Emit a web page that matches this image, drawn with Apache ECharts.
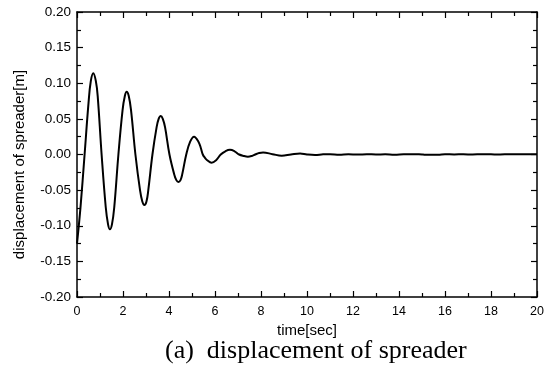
<!DOCTYPE html>
<html>
<head>
<meta charset="utf-8">
<script src="https://cdn.jsdelivr.net/npm/echarts@6/dist/echarts.min.js"></script>
<style>
html,body{margin:0;padding:0;background:#fff;}
#chart{width:549px;height:368px;}
</style>
</head>
<body>
<div id="chart"></div>
<script>
// time [sec]
var times = [
  0, 0.15, 0.33, 0.5, 0.6, 0.71, 0.82, 0.9, 1.07, 1.25,
  1.35, 1.43, 1.52, 1.62, 1.8, 1.98, 2.08, 2.16, 2.25, 2.35,
  2.54, 2.74, 2.84, 2.93, 3.02, 3.1, 3.28, 3.46, 3.55, 3.64,
  3.73, 3.83, 4.02, 4.22, 4.32, 4.41, 4.5, 4.58, 4.75, 4.92,
  5.09, 5.28, 5.38, 5.47, 5.56, 5.66, 5.85, 6.05, 6.25, 6.45, 6.65, 6.85,
  7.05, 7.24, 7.43, 7.6, 7.75, 7.92, 8.09, 8.5, 8.9, 9.3,
  9.7, 10.0, 10.35, 10.7, 11.0, 11.4, 11.8, 12.2, 12.6, 13.0,
  13.4, 13.8, 14.2, 14.6, 15.0, 15.1, 15.7, 16.0, 16.4, 16.8,
  17.2, 17.6, 18.0, 18.4, 18.8, 19.2, 19.6, 20.0
];
// displacement of spreader [m]
var displacement = [
  -0.125, -0.075, 0.0, 0.072, 0.103, 0.114, 0.103, 0.082, 0.0, -0.074,
  -0.098, -0.105, -0.098, -0.074, 0.0, 0.062, 0.082, 0.088, 0.082, 0.062,
  0.0, -0.05, -0.066, -0.071, -0.066, -0.05, 0.0, 0.038, 0.05, 0.054,
  0.05, 0.038, 0.0, -0.027, -0.036, -0.0386, -0.036, -0.027, 0.0, 0.018,
  0.025, 0.018, 0.0095, 0.0, -0.0045, -0.008, -0.0115, -0.008, 0.0, 0.0045, 0.0065, 0.0045,
  0.0, -0.002, -0.003, -0.002, 0.0, 0.002, 0.0028, 0.0005, -0.0017, 0.0,
  0.0015, 0.0, -0.0008, 0.0003, 0.0005, -0.0002, 0.0003, -0.0001, 0.0004, 0.0,
  0.0003, -0.0002, 0.0003, 0.0005, 0.0, -0.0002, -0.0002, 0.0004, 0.0001, 0.0003,
  0.0, 0.0004, 0.0002, 0.0, 0.0004, 0.0002, 0.0005, 0.0004
];
var xTicks = [0, 2, 4, 6, 8, 10, 12, 14, 16, 18, 20];
var yTicks = [-0.20, -0.15, -0.10, -0.05, 0.00, 0.05, 0.10, 0.15, 0.20];
var xTitle = 'time[sec]';
var yTitle = 'displacement of spreader[m]';
var caption = '(a)  displacement of spreader';

var pts = times.map(function (t, i) { return [t, displacement[i]]; });

var chart = echarts.init(document.getElementById('chart'), null, {renderer: 'canvas'});
var lineStyleAxis = {show: true, onZero: false, lineStyle: {color: '#000', width: 1.5}};
var tickStyle = {show: true, inside: true, length: 6, lineStyle: {color: '#000', width: 1.2}};
var minorStyle = {show: true, splitNumber: 2, length: 4, lineStyle: {color: '#000', width: 1.2}};
var font = 'Liberation Sans, Arial, sans-serif';
chart.setOption({
  animation: false,
  backgroundColor: '#fff',
  grid: {left: 77, right: 12, top: 12, bottom: 71, containLabel: false},
  xAxis: [{
    type: 'value', position: 'bottom',
    min: xTicks[0], max: xTicks[xTicks.length - 1], interval: 2,
    axisLine: lineStyleAxis, axisTick: tickStyle, minorTick: minorStyle,
    splitLine: {show: false},
    axisLabel: {color: '#000', fontFamily: font, fontSize: 12.5, margin: 8},
    name: xTitle, nameLocation: 'middle', nameGap: 24,
    nameTextStyle: {color: '#000', fontFamily: font, fontSize: 15}
  }, {
    type: 'value', position: 'top',
    min: xTicks[0], max: xTicks[xTicks.length - 1], interval: 2,
    axisLine: lineStyleAxis, axisTick: tickStyle, minorTick: minorStyle,
    splitLine: {show: false},
    axisLabel: {show: false}
  }],
  yAxis: [{
    type: 'value', position: 'left',
    min: yTicks[0], max: yTicks[yTicks.length - 1], interval: 0.05,
    axisLine: lineStyleAxis, axisTick: tickStyle, minorTick: minorStyle,
    splitLine: {show: false},
    axisLabel: {color: '#000', fontFamily: font, fontSize: 13.5, margin: 6,
      formatter: function (v) { return v.toFixed(2); }},
    name: yTitle, nameLocation: 'middle', nameGap: 50, nameRotate: 90,
    nameTextStyle: {color: '#000', fontFamily: font, fontSize: 15, padding: [0, 20, 0, 0]}
  }, {
    type: 'value', position: 'right',
    min: yTicks[0], max: yTicks[yTicks.length - 1], interval: 0.05,
    axisLine: lineStyleAxis, axisTick: tickStyle, minorTick: minorStyle,
    splitLine: {show: false},
    axisLabel: {show: false}
  }],
  graphic: [{
    type: 'text', left: 165, top: 338,
    style: {text: caption, fill: '#000', font: '26px "Liberation Serif", "Times New Roman", serif'}
  }],
  series: [{
    type: 'line', xAxisIndex: 0, yAxisIndex: 0,
    data: pts, showSymbol: false, smooth: 0.4,
    lineStyle: {color: '#000', width: 2}
  }]
});
</script>
</body>
</html>
